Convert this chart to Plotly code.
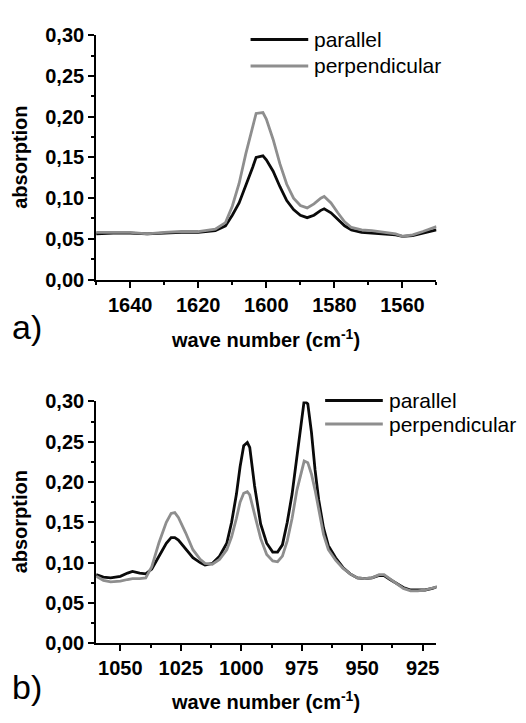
import plotly.graph_objects as go

# panel a) : 1650-1550 cm-1
wn_a = [1650, 1645, 1640, 1635, 1630, 1625, 1620, 1615, 1612, 1610, 1608, 1606, 1604, 1603, 1601, 1600,
        1598, 1596, 1594, 1592, 1590, 1588, 1586, 1584, 1583, 1581, 1579, 1577, 1575, 1572, 1569, 1565,
        1562, 1560, 1557, 1554, 1550]
par_a = [0.056, 0.057, 0.057, 0.056, 0.057, 0.058, 0.058, 0.060, 0.066, 0.079, 0.094, 0.115, 0.138, 0.150, 0.152, 0.147,
         0.133, 0.114, 0.097, 0.086, 0.079, 0.076, 0.079, 0.085, 0.087, 0.082, 0.074, 0.066, 0.061, 0.058, 0.057, 0.056,
         0.055, 0.053, 0.054, 0.057, 0.061]
perp_a = [0.058, 0.058, 0.058, 0.056, 0.058, 0.059, 0.059, 0.062, 0.070, 0.090, 0.118, 0.155, 0.188, 0.204, 0.205, 0.197,
          0.172, 0.142, 0.117, 0.100, 0.091, 0.088, 0.093, 0.100, 0.102, 0.094, 0.082, 0.071, 0.064, 0.061, 0.060, 0.058,
          0.056, 0.053, 0.055, 0.059, 0.065]

# panel b) : 1060-919 cm-1
wn_b = [1060, 1057, 1054, 1050, 1047, 1045, 1042, 1039.5, 1037, 1034,
        1031, 1029, 1027.5, 1026, 1023, 1020, 1017, 1015, 1012, 1009,
        1006, 1004, 1002, 1000.5, 999, 997.5, 996.5, 994.5, 992, 989.5,
        987, 985, 983, 981, 979, 977, 975, 974, 972.5, 971,
        969.5, 968, 966, 964, 961, 958, 955, 952, 949, 946,
        943, 941, 938.5, 936, 933, 930, 927, 924, 921, 919]
par_b = [0.085, 0.082, 0.081, 0.083, 0.087, 0.089, 0.087, 0.086, 0.092, 0.108,
         0.124, 0.131, 0.131, 0.128, 0.117, 0.106, 0.100, 0.097, 0.099, 0.108,
         0.124, 0.150, 0.185, 0.219, 0.245, 0.249, 0.243, 0.195, 0.148, 0.124,
         0.113, 0.113, 0.122, 0.150, 0.185, 0.232, 0.280, 0.301, 0.297, 0.262,
         0.215, 0.178, 0.143, 0.121, 0.106, 0.094, 0.086, 0.081, 0.080, 0.081,
         0.084, 0.084, 0.079, 0.074, 0.069, 0.066, 0.066, 0.066, 0.068, 0.070]
perp_b = [0.083, 0.078, 0.076, 0.077, 0.079, 0.080, 0.080, 0.081, 0.095, 0.125,
          0.150, 0.161, 0.162, 0.156, 0.137, 0.116, 0.104, 0.099, 0.098, 0.104,
          0.116, 0.132, 0.155, 0.175, 0.186, 0.188, 0.184, 0.160, 0.130, 0.110,
          0.102, 0.101, 0.108, 0.127, 0.155, 0.190, 0.215, 0.226, 0.224, 0.210,
          0.190, 0.165, 0.135, 0.116, 0.103, 0.093, 0.086, 0.081, 0.080, 0.081,
          0.085, 0.085, 0.080, 0.074, 0.068, 0.065, 0.065, 0.066, 0.068, 0.070]

series_names = ["parallel", "perpendicular"]
colors = ["#0a0a0a", "#8e8e8e"]

W, H = 526, 723
FONT = "Liberation Sans"


def px(x):
    return x / W


def py(y):
    return 1 - y / H


fig = go.Figure()
for i, (y_par, y_perp, xs) in enumerate([(par_a, perp_a, wn_a), (par_b, perp_b, wn_b)]):
    ax = "" if i == 0 else "2"
    for name, ys, col in zip(series_names, [y_par, y_perp], colors):
        fig.add_trace(go.Scatter(x=xs, y=ys, mode="lines", name=name, showlegend=False,
                                 line=dict(color=col, width=2.8),
                                 xaxis="x" + ax, yaxis="y" + ax))

tickfont = dict(family=FONT, size=20, color="black", weight="bold")
common = dict(showline=True, linewidth=2, linecolor="black", ticks="outside", ticklen=6,
              tickwidth=1.5, tickcolor="black", showgrid=False, zeroline=False,
              tickfont=tickfont, mirror=False)

xdom = [px(96.7), px(439)]
fig.update_layout(
    width=W, height=H, margin=dict(l=0, r=0, t=0, b=0),
    paper_bgcolor="white", plot_bgcolor="white", separators=",.",
    xaxis=dict(domain=xdom, range=[1650, 1550], tick0=1640, dtick=20, anchor="y",
               minor=dict(dtick=10, ticks="outside", ticklen=3, tickcolor="black"), **common),
    yaxis=dict(domain=[py(277), py(25)], range=[0, 0.30], dtick=0.05, tickformat=".2f", anchor="x",
               minor=dict(dtick=0.025, ticks="outside", ticklen=3, tickcolor="black"), **common),
    xaxis2=dict(domain=xdom, range=[1060, 919.3], tick0=1050, dtick=25, anchor="y2",
                minor=dict(dtick=12.5, ticks="outside", ticklen=3, tickcolor="black"), **common),
    yaxis2=dict(domain=[py(652), py(402.7)], range=[0, 0.30], dtick=0.05, tickformat=".2f", anchor="x2",
                minor=dict(dtick=0.025, ticks="outside", ticklen=3, tickcolor="black"), **common),
)

title_font = dict(family=FONT, size=20, color="black", weight="bold")
ann = []
for yc, ymid, lab, ylab in [(338, 151, "a)", 326), (711, 527, "b)", 697)]:
    ann.append(dict(text="wave number (cm<sup>-1</sup>)", x=px(267), y=py(yc), xref="paper", yref="paper",
                    showarrow=False, font=title_font, xanchor="center", yanchor="middle"))
    ann.append(dict(text="absorption", x=px(20.5), y=py(ymid), xref="paper", yref="paper", textangle=-90,
                    showarrow=False, font=title_font, xanchor="center", yanchor="middle"))
    ann.append(dict(text=lab, x=px(10), y=py(ylab), xref="paper", yref="paper", showarrow=False,
                    font=dict(family=FONT, size=34, color="black"), xanchor="left", yanchor="middle"))

# legends drawn as sample lines + labels
shapes = []
for x0, x1, ys in [(252, 310, [29.3, 56.7]), (327, 385, [401.7, 426])]:
    for name, col, yy in zip(series_names, colors, ys):
        shapes.append(dict(type="line", xref="paper", yref="paper", x0=px(x0), x1=px(x1),
                           y0=py(yy), y1=py(yy), line=dict(color=col, width=3)))
        ann.append(dict(text=name, x=px(x1 + 4), y=py(yy), xref="paper", yref="paper", showarrow=False,
                        font=dict(family=FONT, size=21, color="black"), xanchor="left", yanchor="middle"))

fig.update_layout(annotations=ann, shapes=shapes)
fig.write_html("out.html", config={"displayModeBar": False},
               post_script="document.body.style.margin='0';")
